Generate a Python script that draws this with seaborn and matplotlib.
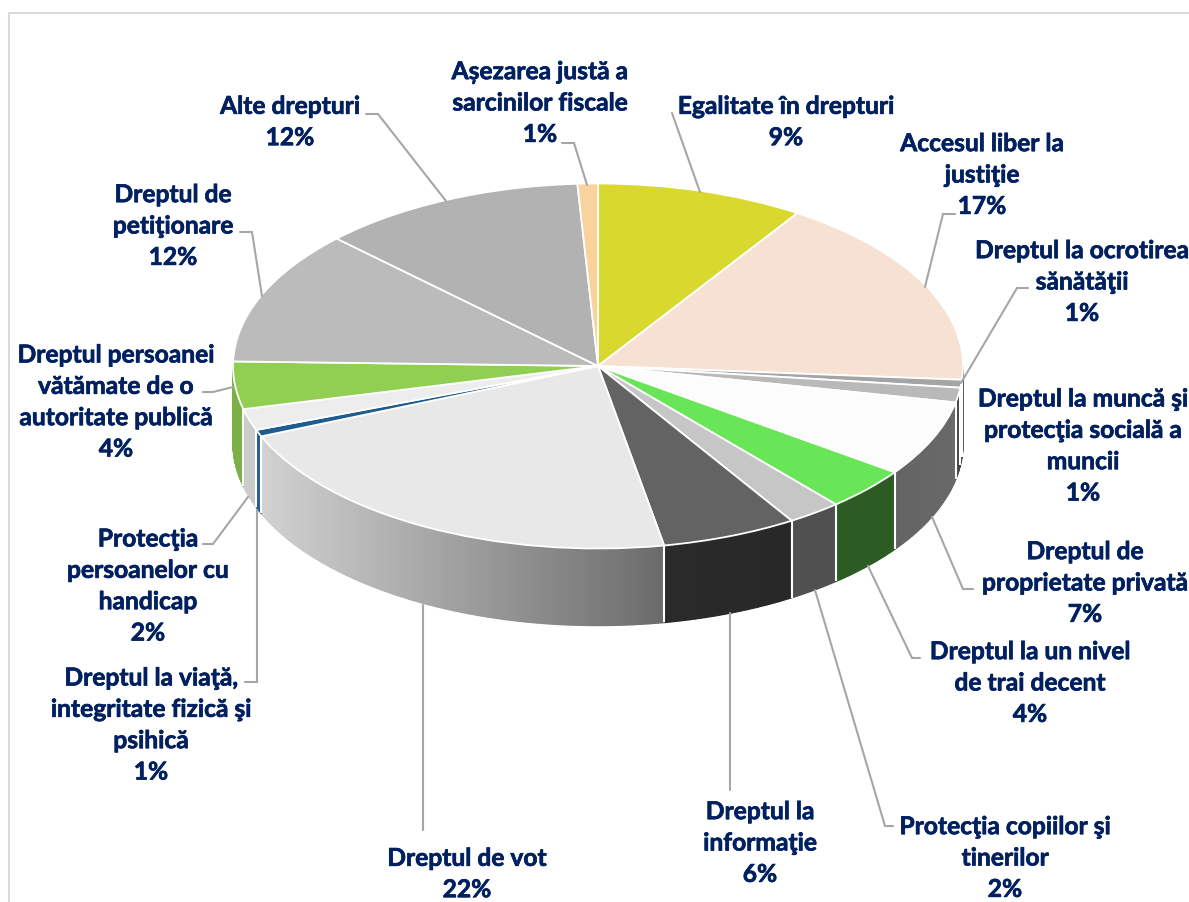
import matplotlib.pyplot as plt
import matplotlib.patheffects as pe
from matplotlib.collections import PolyCollection
from matplotlib.colors import to_rgb
import numpy as np
import seaborn as sns

# slices clockwise from 12 o'clock
labels = ["Egalitate în drepturi", "Accesul liber la\njustiţie", "Dreptul la ocrotirea\nsănătăţii",
          "Dreptul la muncă şi\nprotecţia socială a\nmuncii", "Dreptul de\nproprietate privată",
          "Dreptul la un nivel\nde trai decent", "Protecţia copiilor şi\ntinerilor", "Dreptul la\ninformaţie",
          "Dreptul de vot", "Dreptul la viaţă,\nintegritate fizică şi\npsihică", "Protecţia\npersoanelor cu\nhandicap",
          "Dreptul persoanei\nvătămate de o\nautoritate publică", "Dreptul de\npetiţionare", "Alte drepturi",
          "Așezarea justă a\nsarcinilor fiscale"]
values = [9.2, 17.0, 0.7, 1.3, 6.7, 3.8, 2.4, 6.0, 21.6, 0.6, 1.9, 4.2, 11.9, 11.8, 0.9]
top_colors = ["#D9D82F", "#F6E1D3", "#A5A5A5", "#B9B9B9", "#FCFCFC", "#69E558", "#C6C6C6", "#636363",
              "#E8E8E8", "#1F5C8F", "#EDEDED", "#90CF52", "#BBBBBB", "#B2B2B2", "#F9D39B"]
# wall colours at the start and end of each slice (clockwise)
side_start = ["#D9D82F", "#555555", "#444444", "#444444", "#696969", "#2C5C24", "#505050", "#282828",
              "#6B6B6B", "#1F5C8F", "#C9C9C9", "#7CAF45", "#BBBBBB", "#B2B2B2", "#F9D39B"]
side_end = ["#D9D82F", "#555555", "#444444", "#444444", "#646464", "#2C5C24", "#505050", "#2A2A2A",
            "#D2D2D2", "#1F5C8F", "#CDCDCD", "#7CAF45", "#BBBBBB", "#B2B2B2", "#F9D39B"]

# label centres in pixels (x, y from top)
label_pos = [(786, 122), (982, 175), (1082, 282), (1083, 446), (1085, 583), (1030, 683), (1005, 858), (760, 843),
             (467, 874), (151, 725), (148, 586), (116, 402), (173, 226), (290, 122), (540, 103)]
leaders = [[(672, 113), (700, 192)],
           [(955, 214), (943, 214), (925, 287)],
           [(1028, 288), (1017, 288), (961, 383)],
           [],
           [(973, 589), (963, 589), (932, 517)],
           [(920, 658), (912, 658), (868, 566)],
           [(893, 826), (885, 826), (815, 590)],
           [(730, 790), (730, 613)],
           [(423, 830), (423, 605)],
           [(245, 682), (257, 682), (257, 510)],
           [(203, 544), (213, 544), (248, 497)],
           [(203, 392), (213, 392), (233, 387)],
           [(240, 232), (252, 232), (262, 296)],
           [(366, 114), (378, 114), (446, 201)],
           [(562, 143), (574, 143), (587, 185)]]

W, H = 1189, 902
CX, CY, RX, RY = 598, 366, 365, 182.5
DEPTH = 77 / RY

sns.set_theme(style="white")
plt.rcParams['font.family'] = ['Lato', 'DejaVu Sans']


def px(x, y):
    return (x - CX) / RX, (CY - y) / RY


fig = plt.figure(figsize=(W / 100, H / 100), dpi=100)
ax = fig.add_axes([0, 0, 1, 1])

# side walls, only the front half shows
edges = 90 - np.cumsum([0] + values) / sum(values) * 360
for i in range(len(values)):
    # front half is between 0 and -180 degrees
    lo, hi = max(edges[i + 1], -180), min(edges[i], 0)
    if hi <= lo:
        continue
    t = np.radians(np.linspace(hi, lo, max(2, int(hi - lo) * 2 + 2)))
    xs, ys = np.cos(t), np.sin(t)
    c1, c2 = np.array(to_rgb(side_start[i])), np.array(to_rgb(side_end[i]))
    frac = ((xs[:-1] + xs[1:]) / 2 - xs[0]) / (xs[-1] - xs[0])
    polys = [[(xs[k], ys[k]), (xs[k + 1], ys[k + 1]), (xs[k + 1], ys[k + 1] - DEPTH), (xs[k], ys[k] - DEPTH)]
             for k in range(len(xs) - 1)]
    cols = [c1 + (c2 - c1) * f for f in frac]
    ax.add_collection(PolyCollection(polys, facecolors=cols, edgecolors=cols, linewidths=1.0))

# white seams go on top of the walls
for a in edges:
    if -180 < a < 0:
        x, y = np.cos(np.radians(a)), np.sin(np.radians(a))
        ax.plot([x, x], [y, y - DEPTH], color="white", lw=1.5, solid_capstyle="butt")

# top face
ax.pie(values, colors=top_colors, startangle=90, counterclock=False, radius=1,
       wedgeprops=dict(edgecolor="white", linewidth=1.3))
ax.set_aspect("auto")
ax.set_xlim(-CX / RX, (W - CX) / RX)
ax.set_ylim((CY - H) / RY, CY / RY)
ax.axis("off")

for line in leaders:
    if line:
        pts = np.array([px(*p) for p in line])
        ax.plot(pts[:, 0], pts[:, 1], color="#A6A6A6", lw=1.5, solid_joinstyle="miter")

for name, val, pos in zip(labels, values, label_pos):
    x, y = px(*pos)
    ax.text(x, y, f"{name}\n{round(val)}%", ha="center", va="center", color="#002060", fontsize=17.7,
            fontweight="bold", linespacing=1.44,
            path_effects=[pe.withStroke(linewidth=0.5, foreground="#002060")])

# frame remains of the pasted chart
x0, y0 = px(9, 13)
x1, y1 = px(W, H)
ax.plot([x0, x0, x1], [y1, y0, y0], color="#DADADA", lw=1.5)

fig.savefig("out.png", dpi=100, facecolor="white")
